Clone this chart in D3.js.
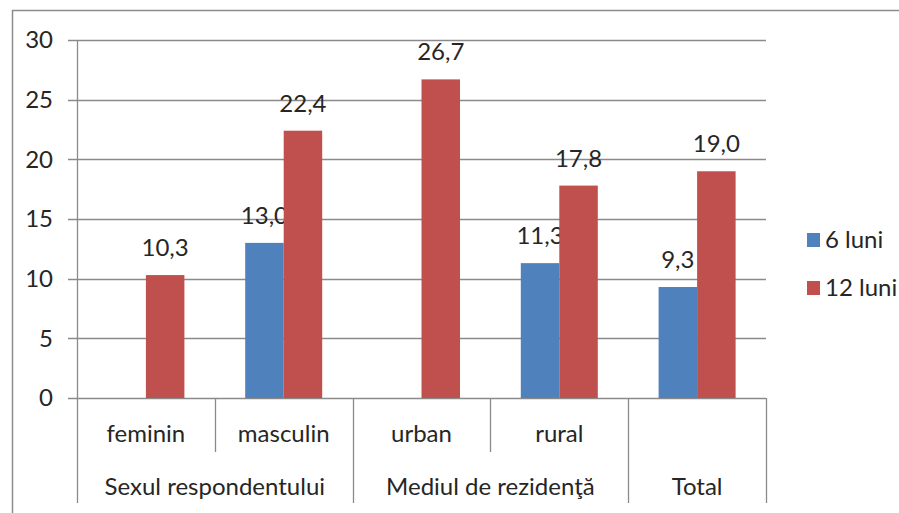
<!DOCTYPE html>
<html><head><meta charset="utf-8">
<script src="https://cdn.jsdelivr.net/npm/d3@7"></script>
<style>
html,body{margin:0;padding:0;background:#fff;}
svg{display:block;}
text{font-family:Lato,"Open Sans",sans-serif;fill:#262626;}
</style></head>
<body>
<script>
const categories = ["feminin","masculin","urban","rural","Total"];
const groups = [
  {name:"Sexul respondentului", from:0, to:2},
  {name:"Mediul de rezidenţă", from:2, to:4},
  {name:"Total", from:4, to:5}
];
const series = ["6 luni","12 luni"];
const values6 = [null, 13.0, null, 11.3, 9.3];
const values12 = [10.3, 22.4, 26.7, 17.8, 19.0];
const yTicks = [0,5,10,15,20,25,30];
const colors = ["#4F81BD","#C0504D"];

(function(){
const W = 899, H = 513;
const svg = d3.select("body").append("svg").attr("width",W).attr("height",H);

// outer frame
svg.append("path").attr("d","M12.5,513 V10.5 H899").attr("fill","none").attr("stroke","#8c8c8c").attr("stroke-width",1.5);

const pl = 77, pr = 766, pt = 40, pb = 398;
const x = d3.scaleBand().domain(d3.range(categories.length)).range([pl,pr]).paddingInner(0).paddingOuter(0);
const y = d3.scaleLinear().domain([0,30]).range([pb,pt]);
const bw = 38.5;
const fs = 24;

// gridlines
svg.append("g").selectAll("line").data(yTicks).join("line")
  .attr("x1",68).attr("x2",pr).attr("y1",d=>Math.round(y(d))+0.5).attr("y2",d=>Math.round(y(d))+0.5)
  .attr("stroke","#8a8a8a").attr("stroke-width",1.3);

// y labels
svg.append("g").selectAll("text").data(yTicks).join("text")
  .attr("x",53).attr("y",d=>y(d)).attr("dy","0.35em").attr("text-anchor","end")
  .attr("font-size",fs).text(d=>d);

// bars
const allSeries = [values6, values12];
allSeries.forEach((vals,si)=>{
  const g = svg.append("g");
  vals.forEach((v,i)=>{
    if(v==null) return;
    const cx = x(i)+x.bandwidth()/2;
    const bx = si===0 ? cx-bw : cx;
    g.append("rect").attr("x",bx).attr("y",y(v)).attr("width",bw).attr("height",y(0)-y(v)).attr("fill",colors[si]);
    g.append("text").attr("x",bx+bw/2).attr("y",y(v)-19).attr("text-anchor","middle")
      .attr("font-size",fs).text(v.toFixed(1).replace(".",","));
  });
});

// axis lines
const ax = svg.append("g").attr("stroke","#8a8a8a").attr("stroke-width",1.3);
ax.append("line").attr("x1",pl+0.5).attr("x2",pl+0.5).attr("y1",pt).attr("y2",503);
const groupEdges = new Set(groups.map(g=>g.to));
for(let i=1;i<=categories.length;i++){
  const xx = Math.round(x(i-1)+x.bandwidth())+0.5;
  ax.append("line").attr("x1",xx).attr("x2",xx).attr("y1",pb).attr("y2",groupEdges.has(i)?503:452);
}

// category labels
svg.append("g").selectAll("text").data(categories).join("text")
  .attr("x",(d,i)=>x(i)+x.bandwidth()/2).attr("y",434).attr("dy","0.35em").attr("text-anchor","middle")
  .attr("font-size",fs).text((d,i)=>groups.find(g=>g.from===i && g.to-g.from===1 && g.name===d)?"":d);

// group labels
svg.append("g").selectAll("text").data(groups).join("text")
  .attr("x",d=>(x(d.from)+x(d.to-1)+x.bandwidth())/2).attr("y",487).attr("dy","0.35em").attr("text-anchor","middle")
  .attr("font-size",fs).text(d=>d.name);

// legend
const lg = svg.append("g");
series.forEach((s,i)=>{
  const cy = 240 + i*48;
  lg.append("rect").attr("x",807).attr("y",cy-7).attr("width",13).attr("height",14).attr("fill",colors[i]);
  lg.append("text").attr("x",825).attr("y",cy).attr("dy","0.35em").attr("font-size",fs).text(s);
});
})();
</script>
</body></html>
